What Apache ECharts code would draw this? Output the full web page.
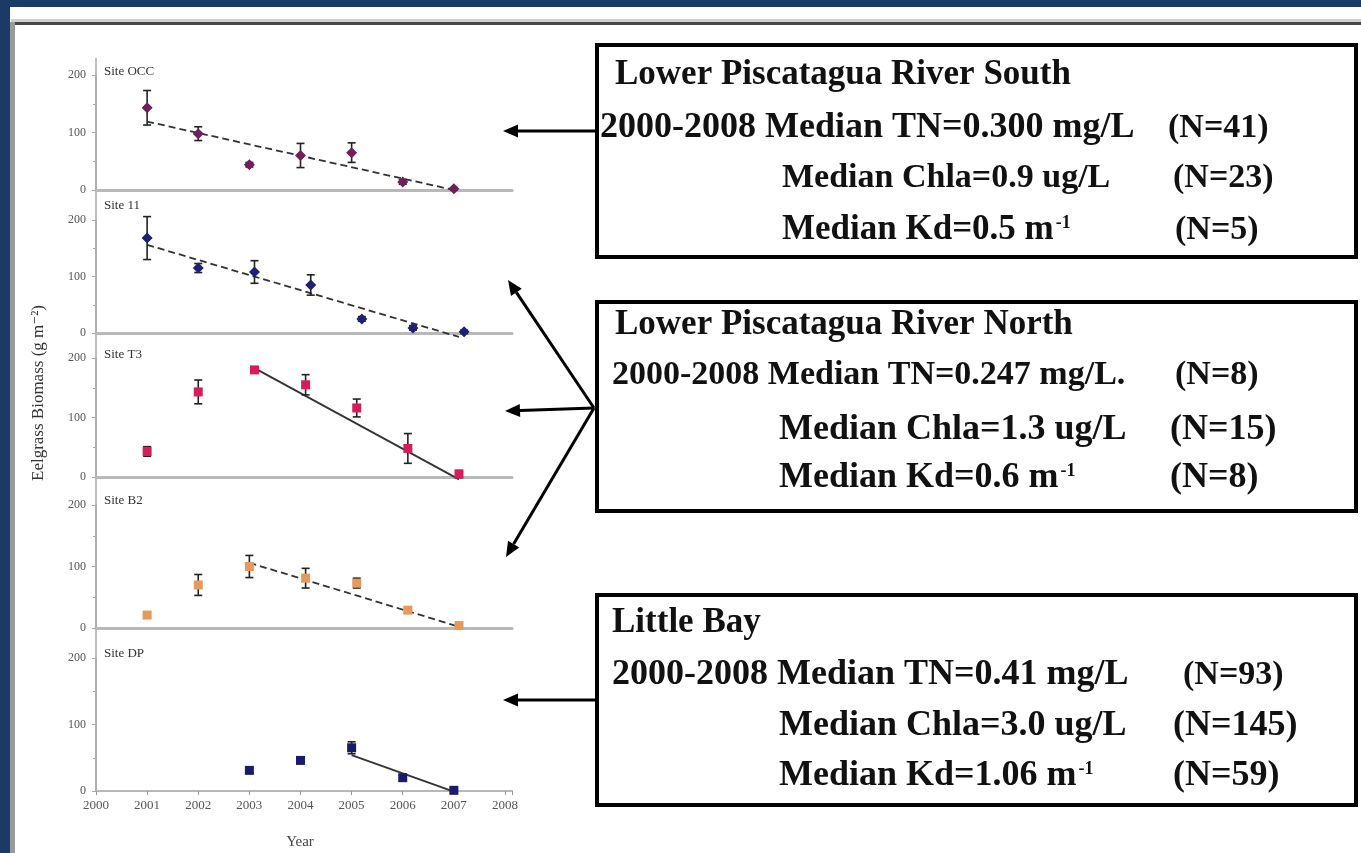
<!DOCTYPE html>
<html>
<head>
<meta charset="utf-8">
<script src="https://cdn.jsdelivr.net/npm/echarts@6/dist/echarts.min.js"></script>
<style>
  html, body { margin: 0; padding: 0; background: #fff; }
  #main { width: 1361px; height: 853px; }
</style>
</head>
<body>
<div id="main"></div>
<script>
// site panels, top to bottom
var siteNames = ['Site OCC', 'Site 11', 'Site T3', 'Site B2', 'Site DP'];
var siteColors = ['#6e1f5c', '#1f1f78', '#d81b5a', '#e39a5c', '#1b1b6b'];

var occYears = [2001, 2002, 2003, 2004, 2005, 2006, 2007];
var occMean  = [143, 98, 44, 60, 65, 14, 2];
var occErr   = [30, 12, 4, 21, 17, 4, 2];
var occTrend = [[2001, 119], [2007, 0]];

var s11Years = [2001, 2002, 2003.1, 2004.2, 2005.2, 2006.2, 2007.2];
var s11Mean  = [168, 115, 108, 85, 25, 9, 2];
var s11Err   = [38, 8, 20, 18, 4, 4, 3];
var s11Trend = [[2001, 156], [2007.1, -7]];

var t3Years = [2001, 2002, 2003.1, 2004.1, 2005.1, 2006.1, 2007.1];
var t3Mean  = [43, 143, 180, 155, 116, 48, 5];
var t3Err   = [8, 20, 5, 17, 15, 25, 6];
var t3Trend = [[2003.1, 183], [2007.1, -4]];

var b2Years = [2001, 2002, 2003, 2004.1, 2005.1, 2006.1, 2007.1];
var b2Mean  = [21, 70, 100, 81, 73, 29, 4];
var b2Err   = [4, 17, 18, 16, 8, 4, 3];
var b2Trend = [[2003, 106], [2007.1, 2]];

var dpYears = [2003, 2004, 2005, 2006, 2007];
var dpMean  = [31, 46, 65, 20, 1];
var dpErr   = [4, 4, 9, 4, 3];
var dpTrend = [[2005, 54], [2007, -1]];

var yTicks = [0, 100, 200];
var xYears = [2000, 2001, 2002, 2003, 2004, 2005, 2006, 2007, 2008];

var panels = [
  {years: occYears, mean: occMean, err: occErr, trend: occTrend, dash: true,  symbol: 'diamond'},
  {years: s11Years, mean: s11Mean, err: s11Err, trend: s11Trend, dash: true,  symbol: 'diamond'},
  {years: t3Years,  mean: t3Mean,  err: t3Err,  trend: t3Trend,  dash: false, symbol: 'rect'},
  {years: b2Years,  mean: b2Mean,  err: b2Err,  trend: b2Trend,  dash: true,  symbol: 'rect'},
  {years: dpYears,  mean: dpMean,  err: dpErr,  trend: dpTrend,  dash: false, symbol: 'rect'}
];

// box texts ({s|..} = superscript)
var boxTexts = [
  ['Lower Piscatagua River South', '2000-2008 Median TN=0.300 mg/L', '(N=41)', 'Median Chla=0.9 ug/L', '(N=23)', 'Median Kd=0.5 m{s|-1}', '(N=5)'],
  ['Lower Piscatagua River North', '2000-2008 Median TN=0.247 mg/L.', '(N=8)', 'Median Chla=1.3 ug/L', '(N=15)', 'Median Kd=0.6 m{s|-1}', '(N=8)'],
  ['Little Bay', '2000-2008 Median TN=0.41 mg/L', '(N=93)', 'Median Chla=3.0 ug/L', '(N=145)', 'Median Kd=1.06 m{s|-1}', '(N=59)']
];

var myChart = echarts.init(document.getElementById('main'));

var gridPos = [
  {top: 75, height: 115},
  {top: 220, height: 113},
  {top: 358, height: 119},
  {top: 505, height: 123},
  {top: 658, height: 133}
];
var serifFont = '"Liberation Serif", "DejaVu Serif", serif';

function errRender(params, api) {
  var x = api.value(0), lo = api.value(1), hi = api.value(2);
  var p1 = api.coord([x, hi]), p2 = api.coord([x, lo]);
  var w = 4;
  var st = {stroke: '#222', lineWidth: 1.6};
  return {
    type: 'group',
    children: [
      {type: 'line', shape: {x1: p1[0], y1: p1[1], x2: p2[0], y2: p2[1]}, style: st},
      {type: 'line', shape: {x1: p1[0] - w, y1: p1[1], x2: p1[0] + w, y2: p1[1]}, style: st},
      {type: 'line', shape: {x1: p2[0] - w, y1: p2[1], x2: p2[0] + w, y2: p2[1]}, style: st}
    ]
  };
}

var grids = [], xAxes = [], yAxes = [], series = [];
panels.forEach(function (p, i) {
  var last = i === panels.length - 1;
  grids.push({left: 96, width: 416, top: gridPos[i].top, height: gridPos[i].height});
  xAxes.push({
    type: 'value', gridIndex: i, min: 2000, max: 2008.137, interval: 1,
    axisLine: {show: true, onZero: false, lineStyle: {color: '#b8b8b8', width: last ? 2 : 3}},
    axisTick: {show: last, length: 4, lineStyle: {color: '#999'}},
    axisLabel: {
      show: last, color: '#555', fontSize: 13, fontFamily: serifFont, margin: 8,
      formatter: function (v) { return xYears.indexOf(v) >= 0 ? String(v) : ''; }
    },
    splitLine: {show: false}
  });
  yAxes.push({
    type: 'value', gridIndex: i, min: 0, max: 200, interval: 100,
    axisLine: {show: true, lineStyle: {color: '#aaa', width: 1.5}},
    axisTick: {show: true, length: 4, lineStyle: {color: '#aaa'}},
    minorTick: {show: true, splitNumber: 2, length: 3, lineStyle: {color: '#aaa'}},
    axisLabel: {
      color: '#555', fontSize: 12, fontFamily: serifFont, margin: 10,
      formatter: function (v) { return yTicks.indexOf(v) >= 0 ? String(v) : ''; }
    },
    splitLine: {show: false}
  });
  series.push({
    type: 'line', xAxisIndex: i, yAxisIndex: i, data: p.trend, symbol: 'none', clip: false,
    lineStyle: {color: '#333', width: 1.8, type: p.dash ? [7, 4] : 'solid'}, z: 2
  });
  series.push({
    type: 'custom', xAxisIndex: i, yAxisIndex: i, renderItem: errRender, clip: false,
    data: p.years.map(function (y, k) { return [y, p.mean[k] - p.err[k], p.mean[k] + p.err[k]]; }), z: 3
  });
  series.push({
    type: 'scatter', xAxisIndex: i, yAxisIndex: i, symbol: p.symbol, symbolSize: p.symbol === 'diamond' ? 11 : 9,
    itemStyle: {color: siteColors[i], opacity: 1},
    data: p.years.map(function (y, k) { return [y, p.mean[k]]; }), z: 4
  });
});

// decorations: frame, boxes, texts, arrows
var g = [];
g.push({type: 'rect', shape: {x: 0, y: 0, width: 1361, height: 7}, style: {fill: '#1c3a68'}});
g.push({type: 'rect', shape: {x: 0, y: 0, width: 10, height: 853}, style: {fill: '#1c3a68'}});
g.push({type: 'rect', shape: {x: 11, y: 19, width: 1350, height: 3}, style: {fill: '#cfcfcf'}});
g.push({type: 'rect', shape: {x: 11, y: 22, width: 1350, height: 3}, style: {fill: '#474747'}});
g.push({type: 'rect', shape: {x: 10, y: 22, width: 5, height: 831}, style: {fill: '#9a9a9a'}});
// continuous y axis line
g.push({type: 'line', shape: {x1: 96, y1: 58, x2: 96, y2: 791}, style: {stroke: '#aaa', lineWidth: 1.5}});

var siteLabelY = [72, 206, 355, 501, 654];
siteNames.forEach(function (n, i) {
  g.push({type: 'text', x: 104, y: siteLabelY[i], style: {text: n, font: '13px ' + serifFont, fill: '#333', verticalAlign: 'middle'}});
});
g.push({type: 'text', x: 300, y: 842, style: {text: 'Year', font: '15px ' + serifFont, fill: '#444', align: 'center', verticalAlign: 'middle'}});
g.push({type: 'text', x: 39, y: 393, rotation: Math.PI / 2,
  style: {text: 'Eelgrass Biomass (g m⁻²)', font: '17px ' + serifFont, fill: '#333', align: 'center', verticalAlign: 'middle'}});

var boxTop = [45, 302, 595], boxBottom = [257, 511, 805];
var rowMid = [[75, 128, 178, 230], [325, 375, 430, 478], [623, 675, 726, 776]];
var rowX = [[615, 600, 1168, 782, 1173, 782, 1175], [615, 612, 1175, 779, 1170, 779, 1170], [612, 612, 1183, 779, 1173, 779, 1173]];
var rowSize = [[35, 36, 34, 34, 34, 35, 34], [35, 34, 34, 36, 36, 36, 36], [35, 36, 34, 36, 36, 36, 36]];
var rowOf = [0, 1, 1, 2, 2, 3, 3];
boxTexts.forEach(function (b, i) {
  g.push({type: 'rect', shape: {x: 597, y: boxTop[i], width: 759, height: boxBottom[i] - boxTop[i]},
    style: {fill: '#fff', stroke: '#000', lineWidth: 4}});
  b.forEach(function (t, k) {
    var fs = rowSize[i][k];
    g.push({type: 'text', x: rowX[i][k], y: rowMid[i][rowOf[k]],
      style: {
        text: t, font: 'bold ' + fs + 'px ' + serifFont, fill: '#111', verticalAlign: 'middle',
        rich: {s: {fontSize: Math.round(fs * 0.5), fontFamily: serifFont, fontWeight: 'bold', fill: '#111', verticalAlign: 'top', padding: [2, 0, 0, 2]}}
      }});
  });
});

function arrow(x1, y1, x2, y2) {
  var a = Math.atan2(y2 - y1, x2 - x1), L = 15, W = 6.5;
  var bx = x2 - L * Math.cos(a), by = y2 - L * Math.sin(a);
  var nx = -Math.sin(a) * W, ny = Math.cos(a) * W;
  g.push({type: 'line', shape: {x1: x1, y1: y1, x2: bx, y2: by}, style: {stroke: '#000', lineWidth: 3}});
  g.push({type: 'polygon', shape: {points: [[x2, y2], [bx + nx, by + ny], [bx - nx, by - ny]]}, style: {fill: '#000'}});
}
arrow(596, 131, 503, 131);
arrow(594, 408, 508, 280);
arrow(594, 408, 505, 411);
arrow(594, 408, 506, 557);
arrow(596, 700, 503, 700);

myChart.setOption({
  animation: false,
  backgroundColor: '#fff',
  grid: grids,
  xAxis: xAxes,
  yAxis: yAxes,
  series: series,
  graphic: g
});
</script>
</body>
</html>
